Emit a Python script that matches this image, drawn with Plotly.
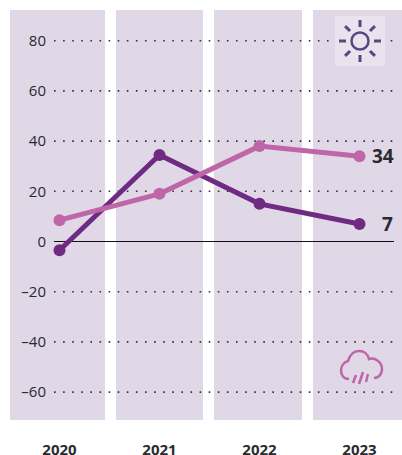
import plotly.graph_objects as go

years = ["2020", "2021", "2022", "2023"]
dark_values = [-3.5, 34.5, 15, 7]
pink_values = [8.5, 19, 38, 34]
tick_vals = [80, 60, 40, 20, 0, -20, -40, -60]
tick_text = ["80", "60", "40", "20", "0", "–20", "–40", "–60"]
band_edges = [(10, 105), (116, 203), (214, 302), (313, 402)]

W, H = 402, 455
TOP, BOTTOM = 10, 420
Y0_PX, PX_PER_UNIT = 241.5, 2.51
X0_PX, PX_PER_YEAR = 59.5, 100


def dx(px):
    return (px - X0_PX) / PX_PER_YEAR


def dy(py):
    return (Y0_PX - py) / PX_PER_UNIT


BAND = "#e0d8e6"
DARK = "#6f2a82"
PINK = "#bf66a8"
TEXT = "#2b2a2e"
SUN = "#5c4480"
xs = list(range(len(years)))
shapes = []

for a, b in band_edges:
    shapes.append(dict(type="rect", layer="below", x0=dx(a), x1=dx(b), y0=dy(BOTTOM), y1=dy(TOP),
                       fillcolor=BAND, line_width=0))
for v in tick_vals:
    if v == 0:
        line = dict(color="#111111", width=1)
    else:
        line = dict(color="#333333", width=1.6, dash="1.6px,7.5px")
    shapes.append(dict(type="line", layer="below", x0=dx(54), x1=dx(394), y0=v, y1=v, line=line))

# sun icon
shapes.append(dict(type="rect", layer="below", x0=dx(335), x1=dx(385), y0=dy(16), y1=dy(66),
                   fillcolor="#e9e3ee", line_width=0))
cx, cy = 360, 41
shapes.append(dict(type="circle", x0=dx(cx - 8.5), x1=dx(cx + 8.5), y0=dy(cy - 8.5), y1=dy(cy + 8.5),
                   line=dict(color=SUN, width=2.5)))
for ux, uy in [(0, 1), (0, -1), (1, 0), (-1, 0), (.71, .71), (.71, -.71), (-.71, .71), (-.71, -.71)]:
    shapes.append(dict(type="line", x0=dx(cx + 14 * ux), x1=dx(cx + 21 * ux),
                       y0=dy(cy + 14 * uy), y1=dy(cy + 21 * uy),
                       line=dict(color=SUN, width=3)))

# rain cloud icon
pts = [[(349, 379)],
       [(343, 379), (341, 374), (341, 370)],
       [(341, 365), (345, 362), (348, 361)],
       [(350, 354), (354, 351), (359, 351)],
       [(364, 351), (368, 354), (369, 359)],
       [(375, 357), (382, 362), (382, 369)],
       [(382, 375), (378, 378), (374, 378)]]
path = f"M {dx(pts[0][0][0])},{dy(pts[0][0][1])} " + " ".join(
    "C " + " ".join(f"{dx(x)},{dy(y)}" for x, y in seg) for seg in pts[1:])
shapes.append(dict(type="path", path=path, line=dict(color=PINK, width=2.5)))
for (x0, y0), (x1, y1) in [((356, 375), (353, 383)), ((363, 372), (359, 384)), ((368, 374), (366, 382))]:
    shapes.append(dict(type="line", x0=dx(x0), x1=dx(x1), y0=dy(y0), y1=dy(y1),
                       line=dict(color=PINK, width=2.5)))

fig = go.Figure()
fig.add_trace(go.Scatter(x=xs, y=dark_values, mode="lines+markers", cliponaxis=False,
                         line=dict(color=DARK, width=5), marker=dict(color=DARK, size=12)))
fig.add_trace(go.Scatter(x=xs, y=pink_values, mode="lines+markers", cliponaxis=False,
                         line=dict(color=PINK, width=5), marker=dict(color=PINK, size=12)))

FONT = "Open Sans"
annotations = [
    dict(x=3, y=pink_values[-1], text=f"<b>{pink_values[-1]}</b>", showarrow=False, xanchor="left", xshift=10,
         font=dict(family=FONT, size=19, color=TEXT)),
    dict(x=3, y=dark_values[-1], text=f"<b>{dark_values[-1]}</b>", showarrow=False, xanchor="left", xshift=20,
         font=dict(family=FONT, size=19, color=TEXT)),
]

fig.update_layout(
    width=W, height=H, showlegend=False,
    margin=dict(l=0, r=0, t=TOP, b=H - BOTTOM, pad=0, autoexpand=False),
    paper_bgcolor="white", plot_bgcolor="white",
    shapes=shapes, annotations=annotations,
    xaxis=dict(range=[dx(0), dx(W)], tickvals=xs, ticktext=[f"<b>{y}</b>" for y in years],
               showgrid=False, zeroline=False, showline=False, ticks="", ticklabelstandoff=19,
               tickfont=dict(family=FONT, size=15, color=TEXT), fixedrange=True),
    yaxis=dict(range=[dy(BOTTOM), dy(TOP)], tickvals=tick_vals, ticktext=tick_text,
               anchor="free", position=46 / W,
               showgrid=False, zeroline=False, showline=False, ticks="",
               tickfont=dict(family=FONT, size=15, color=TEXT), fixedrange=True),
)
fig.write_html("out.html", config=dict(displayModeBar=False),
               post_script="document.body.style.margin='0';document.documentElement.style.overflow='hidden';")
